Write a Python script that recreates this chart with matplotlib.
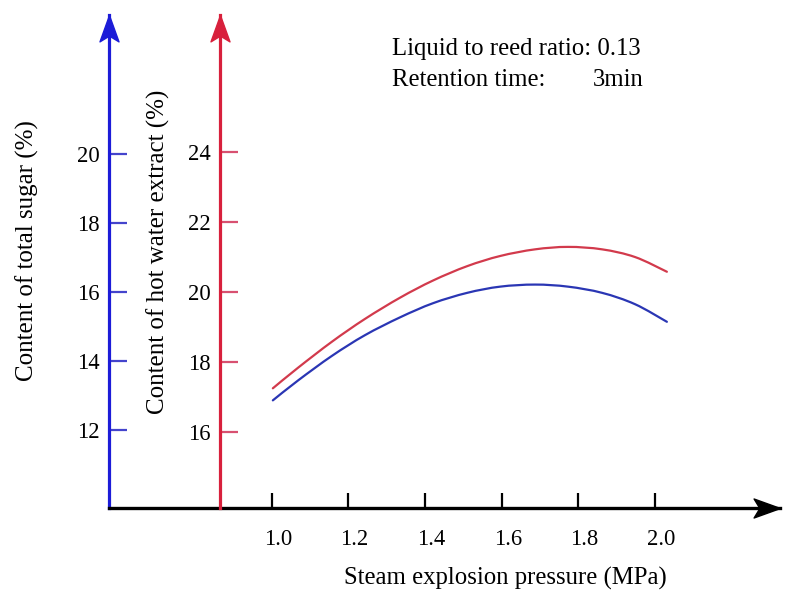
import matplotlib
matplotlib.use("Agg")
import matplotlib.pyplot as plt
from matplotlib.path import Path
from matplotlib.patches import PathPatch
from matplotlib.transforms import ScaledTranslation

# ---- data ----
pressure = [1.003, 1.069, 1.157, 1.243, 1.335, 1.421, 1.510, 1.596, 1.687, 1.773, 1.862, 1.948, 2.031]
hot_water_extract = [17.24, 17.83, 18.57, 19.22, 19.83, 20.32, 20.73, 21.02, 21.21, 21.28, 21.21, 20.99, 20.57]
total_sugar = [12.86, 13.44, 14.15, 14.75, 15.27, 15.68, 15.98, 16.16, 16.22, 16.16, 15.98, 15.65, 15.14]

x_ticks = [1.0, 1.2, 1.4, 1.6, 1.8, 2.0]
x_tick_labels = ["1.0", "1.2", "1.4", "1.6", "1.8", "2.0"]
sugar_ticks = [12, 14, 16, 18, 20]
extract_ticks = [16, 18, 20, 22, 24]

# ---- styling ----
W, H = 790, 592
DPI = 100
FONT = "Liberation Serif"
FS_TICK = 16.3
FS_TEXT = 17.8
BLUE_AX = "#1c1cd8"
RED_AX = "#d8203c"
BLUE_LINE = "#2a36b4"
RED_LINE = "#d23a4c"
BLUE_TICK = "#4444cc"
RED_TICK = "#d85070"

plt.rcParams["font.family"] = [FONT, "DejaVu Serif"]
plt.rcParams["font.size"] = FS_TICK

fig = plt.figure(figsize=(W / DPI, H / DPI), dpi=DPI)

# pixel geometry
px_left, px_right = 109.3, 780.0
px_bottom, px_top = 507.7, 15.0
ax = fig.add_axes([px_left / W, (H - px_bottom) / H,
                   (px_right - px_left) / W, (px_bottom - px_top) / H])

x_per_px = 1 / 383.3
x0 = 1 - (271.7 - px_left) * x_per_px
x1 = 1 + (px_right - 271.7) * x_per_px
ax.set_xlim(x0, x1)
blue_pp = 34.46
ax.set_ylim(12 - (px_bottom - 430) / blue_pp, 12 + (430 - px_top) / blue_pp)

red_pp = 35.0
ax2 = ax.twinx()
ax2.set_ylim(16 - (px_bottom - 431.7) / red_pp, 16 + (431.7 - px_top) / red_pp)
red_axis_x = 1 - (271.7 - 220.0) * x_per_px


def smooth_path(xs, ys):
    """Smooth curve through the data points (Catmull-Rom as cubic Bezier)."""
    pts = list(zip(xs, ys))
    n = len(pts)
    verts = [pts[0]]
    codes = [Path.MOVETO]
    for i in range(n - 1):
        p0 = pts[i - 1] if i > 0 else pts[i]
        p1 = pts[i]
        p2 = pts[i + 1]
        p3 = pts[i + 2] if i + 2 < n else pts[i + 1]
        c1 = (p1[0] + (p2[0] - p0[0]) / 6, p1[1] + (p2[1] - p0[1]) / 6)
        c2 = (p2[0] - (p3[0] - p1[0]) / 6, p2[1] - (p3[1] - p1[1]) / 6)
        verts += [c1, c2, p2]
        codes += [Path.CURVE4] * 3
    return Path(verts, codes)


# curves
ax.add_patch(PathPatch(smooth_path(pressure, total_sugar), fill=False,
                       edgecolor=BLUE_LINE, lw=1.6, capstyle="round", zorder=3))
ax2.add_patch(PathPatch(smooth_path(pressure, hot_water_extract), fill=False,
                        edgecolor=RED_LINE, lw=1.6, capstyle="round", zorder=3))

# spines main axes
for s in ["top", "right"]:
    ax.spines[s].set_visible(False)
ax.spines["left"].set_color(BLUE_AX)
ax.spines["left"].set_linewidth(2.3)
ax.spines["bottom"].set_color("black")
ax.spines["bottom"].set_linewidth(2.4)

ax.set_yticks(sugar_ticks)
ax.set_yticklabels([str(t) for t in sugar_ticks])
ax.tick_params(axis="y", direction="in", length=13.2, width=1.6, color=BLUE_TICK,
               pad=7, labelsize=FS_TICK, labelcolor="black")
ax.set_xticks(x_ticks)
ax.set_xticklabels(x_tick_labels)
ax.tick_params(axis="x", direction="in", length=10.8, width=1.6, color="black",
               pad=15.5, labelsize=FS_TICK)
off = ScaledTranslation(6 / DPI, 0, fig.dpi_scale_trans)
for lab in ax.get_xticklabels():
    lab.set_transform(lab.get_transform() + off)

# twin axes (red)
for s in ["top", "right", "bottom"]:
    ax2.spines[s].set_visible(False)
ax2.spines["left"].set_visible(True)
ax2.spines["left"].set_position(("data", red_axis_x))
ax2.spines["left"].set_color(RED_AX)
ax2.spines["left"].set_linewidth(2.3)
ax2.yaxis.set_ticks_position("left")
ax2.set_yticks(extract_ticks)
ax2.set_yticklabels([str(t) for t in extract_ticks])
ax2.tick_params(axis="y", direction="in", length=12.7, width=1.6, color=RED_TICK,
                pad=7, labelsize=FS_TICK, labelcolor="black")
ax2.patch.set_visible(False)

# arrowheads (stealth style), tip at origin
up = Path([(0, 0), (-0.36, -1), (0, -0.78), (0.36, -1), (0, 0)],
          [Path.MOVETO, Path.LINETO, Path.LINETO, Path.LINETO, Path.CLOSEPOLY])
right = Path([(0, 0), (-1, 0.36), (-0.78, 0), (-1, -0.36), (0, 0)],
             [Path.MOVETO, Path.LINETO, Path.LINETO, Path.LINETO, Path.CLOSEPOLY])
ms = 38
ax.plot([x0], [ax.get_ylim()[1]], marker=up, ms=ms, color=BLUE_AX, mec=BLUE_AX, clip_on=False, zorder=5)
ax2.plot([red_axis_x], [ax2.get_ylim()[1]], marker=up, ms=ms, color=RED_AX, mec=RED_AX, clip_on=False, zorder=5)
ax.plot([x1], [ax.get_ylim()[0]], marker=right, ms=ms, color="black", mec="black", clip_on=False, zorder=5)

# labels
def ftext(px, py, s, fs=FS_TEXT, **kw):
    fig.text(px / W, 1 - py / H, s, fontsize=fs, **kw)

ftext(27, 251, "Content of total sugar (%)", fs=18, rotation=90, ha="center", va="center")
ftext(158, 252, "Content of hot water extract (%)", fs=18, rotation=90, ha="center", va="center")
ftext(505, 578, "Steam explosion pressure (MPa)", ha="center", va="center")
ftext(392, 49, "Liquid to reed ratio: 0.13", ha="left", va="center")
ftext(392, 80, "Retention time:", ha="left", va="center")
ftext(593, 80, "3min", ha="left", va="center")

fig.savefig("out.png", dpi=DPI)
